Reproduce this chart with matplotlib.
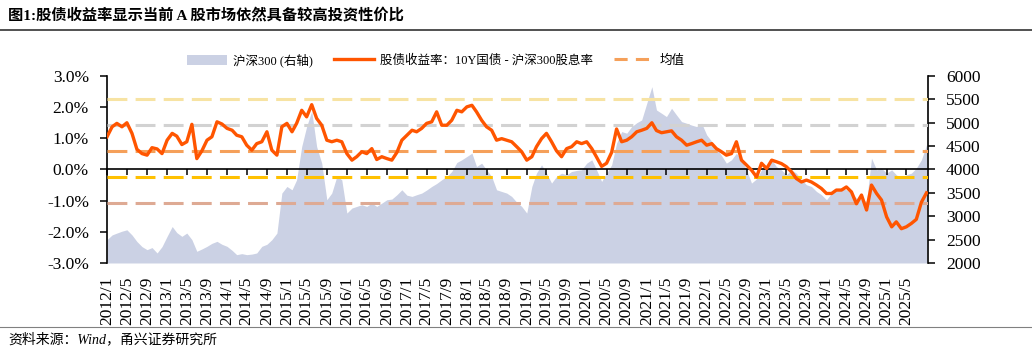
import numpy as np
import pandas as pd
import matplotlib
matplotlib.use('Agg')
import matplotlib.pyplot as plt
from matplotlib.patches import Patch
from matplotlib.lines import Line2D

plt.rcParams['font.family'] = ['Liberation Serif', 'Noto Sans CJK SC']
plt.rcParams['axes.unicode_minus'] = False

# 月度数据 2012/1 - 2025/9
months = pd.date_range('2012-01-01', periods=165, freq='MS')

# 股债收益率: 10Y国债 - 沪深300股息率 (%)
spread = [
    1.05, 1.37, 1.48, 1.37, 1.50, 1.16, 0.65, 0.51, 0.46, 0.70, 0.66, 0.51,
    0.94, 1.16, 1.07, 0.80, 0.89, 1.45, 0.35, 0.60, 0.94, 1.05, 1.53, 1.46,
    1.32, 1.26, 1.10, 1.05, 0.78, 0.62, 0.83, 0.89, 1.21, 0.62, 0.46, 1.37,
    1.48, 1.21, 1.48, 1.90, 1.69, 2.08, 1.64, 1.42, 0.94, 0.89, 0.94, 0.89,
    0.51, 0.30, 0.41, 0.57, 0.51, 0.67, 0.32, 0.41, 0.35, 0.30, 0.55, 0.94,
    1.10, 1.26, 1.21, 1.32, 1.48, 1.53, 1.85, 1.42, 1.42, 1.58, 1.90, 1.85,
    2.01, 2.06, 1.85, 1.58, 1.37, 1.26, 0.94, 0.99, 0.94, 0.89, 0.73, 0.57,
    0.30, 0.41, 0.73, 0.99, 1.16, 0.89, 0.60, 0.41, 0.67, 0.73, 0.89, 0.83,
    0.89, 0.67, 0.40, 0.10, 0.20, 0.55, 1.30, 0.89, 0.94, 1.05, 1.21, 1.26,
    1.32, 1.50, 1.25, 1.18, 1.21, 1.24, 1.05, 0.94, 0.78, 0.83, 0.89, 0.94,
    0.78, 0.83, 0.67, 0.57, 0.46, 0.51, 0.89, 0.30, 0.14, -0.02, -0.24, 0.20,
    0.03, 0.30, 0.25, 0.19, 0.09, -0.07, -0.29, -0.40, -0.34, -0.40, -0.50, -0.61,
    -0.77, -0.77, -0.66, -0.66, -0.56, -0.72, -1.10, -0.82, -1.30, -0.50, -0.77, -0.98,
    -1.52, -1.84, -1.68, -1.90, -1.84, -1.73, -1.60, -1.05, -0.75,
]

# 沪深300 (右轴)
hs300 = [
    2500, 2600, 2640, 2680, 2710, 2600, 2460, 2350, 2285, 2330, 2214, 2350,
    2570, 2780, 2650, 2570, 2640, 2500, 2250, 2300, 2356, 2420, 2463, 2400,
    2356, 2270, 2178, 2200, 2178, 2190, 2214, 2356, 2400, 2498, 2640, 3495,
    3637, 3566, 3780, 4491, 4918, 5250, 4491, 4135, 3353, 3495, 3850, 3780,
    3068, 3175, 3210, 3246, 3210, 3281, 3210, 3281, 3353, 3367, 3460, 3566,
    3450, 3424, 3460, 3495, 3560, 3637, 3700, 3780, 3850, 3957, 4150, 4207,
    4278, 4349, 4064, 4135, 3993, 3850, 3566, 3530, 3495, 3424, 3300, 3210,
    3068, 3637, 3922, 4100, 3922, 3709, 3850, 3922, 3886, 3957, 3980, 3993,
    4135, 4207, 3993, 3744, 3922, 4100, 4562, 4811, 4776, 4918, 5000, 5060,
    5416, 5772, 5274, 5203, 5132, 5310, 5167, 5025, 4989, 4950, 4918, 4989,
    4740, 4598, 4456, 4300, 4135, 4207, 4349, 4207, 3993, 3709, 3800, 3993,
    4064, 4207, 4064, 3993, 3886, 3993, 3922, 3780, 3673, 3637, 3530, 3460,
    3353, 3495, 3566, 3601, 3566, 3495, 3388, 3353, 3317, 4242, 3993, 4029,
    3922, 3993, 3886, 3815, 3886, 3922, 4029, 4207, 4527,
]

avg_spread = 0.59
sd_spread = 0.84

tick_months = pd.date_range('2012-01-01', '2025-05-01', freq='4MS')
tick_labels = [f'{d.year}/{d.month}' for d in tick_months]

fig = plt.figure(figsize=(10.32, 3.54), dpi=100)
ax = fig.add_axes([0.1037, 0.2571, 0.7955, 0.5282])
ax2 = ax.twinx()
ax.set_zorder(ax2.get_zorder() + 1)
ax.patch.set_visible(False)

# 沪深300 面积
ax2.fill_between(months, 2000, hs300, color='#CBD1E4', lw=0)
ax2.set_ylim(2000, 6000)
ax2.set_yticks(range(2000, 6001, 500))

# 均值及 ±1/±2 标准差
band_colors = {2: '#F7E3A3', 1: '#D2D2D2', 0: '#F5A05A', -1: '#FFC000', -2: '#DEAA94'}
for k, c in band_colors.items():
    ax.axhline(avg_spread + k * sd_spread, color=c, lw=2.2, dashes=(6.5, 2.7), zorder=3)

ax.plot(months, spread, color='#FF5500', lw=2.4, zorder=5)

ax.set_ylim(-3, 3)
ax.set_yticks(np.arange(-3, 3.01, 1))
ax.set_yticklabels([f'{v:.1f}%' for v in np.arange(-3, 3.01, 1)])
xend = months[-1] + pd.Timedelta(days=9)
ax.set_xlim(months[0], xend)
ax2.set_xlim(months[0], xend)

ax.set_xticks(tick_months)
ax.set_xticklabels(tick_labels)
ax.spines['bottom'].set_position(('data', 0))
ax.spines['top'].set_visible(False)
ax.spines['right'].set_visible(False)
ax2.spines['top'].set_visible(False)
ax2.spines['bottom'].set_visible(False)
ax2.spines['left'].set_visible(False)
for s in ['left', 'bottom']:
    ax.spines[s].set_linewidth(1.2)
ax2.spines['right'].set_linewidth(1.2)

ax.tick_params(axis='x', direction='out', length=4, width=1.1, pad=73,
               labelsize=12.5, labelrotation=90)
ax.tick_params(axis='y', direction='out', length=5, width=1.1, pad=8, labelsize=12.5)
ax2.tick_params(axis='y', direction='out', length=5, width=1.1, pad=8, labelsize=12.5)

handles = [
    Patch(facecolor='#CBD1E4', edgecolor='none'),
    Line2D([], [], color='#FF5500', lw=2.4),
    Line2D([], [], color='#F5A05A', lw=2.2, dashes=(4.3, 2.7)),
]
labels = ['沪深300 (右轴)', '股债收益率：10Y国债 - 沪深300股息率', '均值']
fig.legend(handles, labels, loc='center', bbox_to_anchor=(0.4225, 0.83), ncol=3,
           frameon=False, fontsize=9, handlelength=3.2, handletextpad=0.45,
           columnspacing=1.7, handleheight=0.9)

fig.text(0.008, 1 - 15 / 354, '图1:股债收益率显示当前 A 股市场依然具备较高投资性价比',
         fontsize=11, fontweight='bold', va='center')
fig.add_artist(Line2D([0, 1], [1 - 30 / 354] * 2, transform=fig.transFigure,
                      color='#333333', lw=1.2))
fig.add_artist(Line2D([0, 1], [1 - 327 / 354] * 2, transform=fig.transFigure,
                      color='#808080', lw=0.8))
fig.text(0.008, 1 - 339 / 354, '资料来源：Wind，甬兴证券研究所',
         fontsize=10, style='italic', va='center')

fig.savefig('out.png', dpi=100)
